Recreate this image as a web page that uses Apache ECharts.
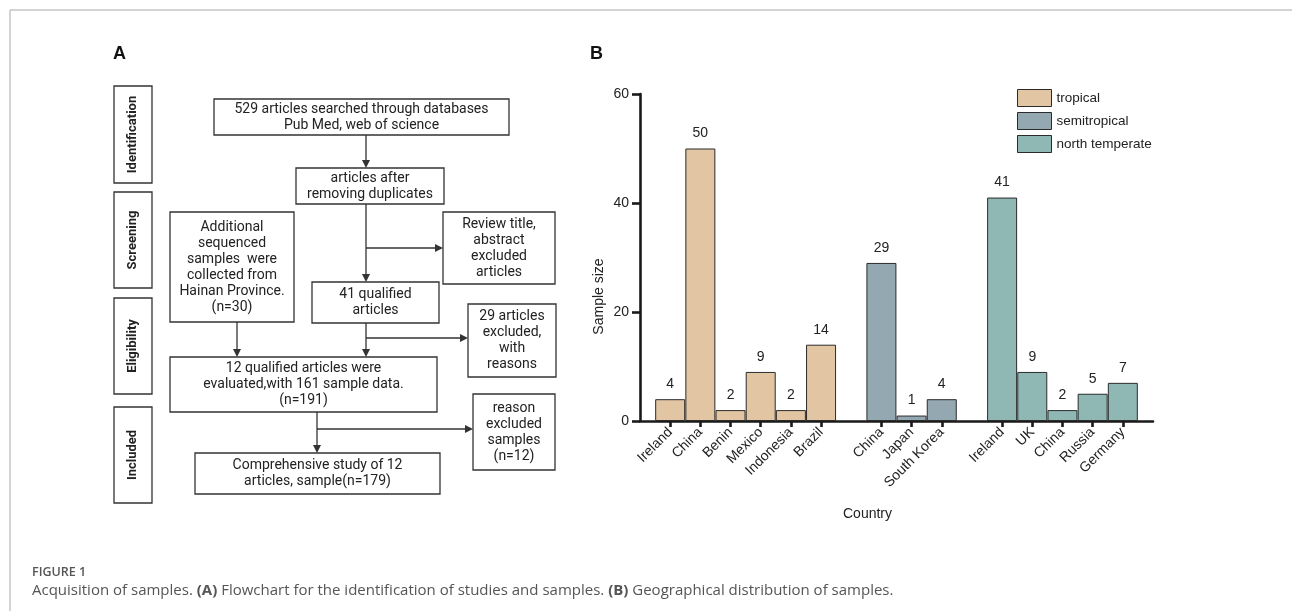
<!DOCTYPE html>
<html><head><meta charset="utf-8">
<script src="https://cdn.jsdelivr.net/npm/echarts@6/dist/echarts.min.js"></script>
<style>html,body{margin:0;padding:0;background:#fff}#c{width:1292px;height:611px}</style>
</head><body><div id="c"></div>
<script>
// ---------- data (panel B) ----------
const tropicalCountries = ['Ireland', 'China', 'Benin', 'Mexico', 'Indonesia', 'Brazil'];
const tropicalValues = [4, 50, 2, 9, 2, 14];
const semitropicalCountries = ['China', 'Japan', 'South Korea'];
const semitropicalValues = [29, 1, 4];
const temperateCountries = ['Ireland', 'UK', 'China', 'Russia', 'Germany'];
const temperateValues = [41, 9, 2, 5, 7];
const seriesNames = ['tropical', 'semitropical', 'north temperate'];
const yTickValues = [0, 20, 40, 60];

// ---------- texts (panel A) ----------
const stageLabels = ['Identification', 'Screening', 'Eligibility', 'Included'];
const flowTexts = [
  '529 articles searched through databases\nPub Med, web of science',
  'articles after\nremoving duplicates',
  'Review title,\nabstract\nexcluded\narticles',
  '41 qualified\narticles',
  'Additional\nsequenced\nsamples  were\ncollected from\nHainan Province.\n(n=30)',
  '29 articles\nexcluded,\nwith\nreasons',
  '12 qualified articles were\nevaluated,with 161 sample data.\n(n=191)',
  'reason\nexcluded\nsamples\n(n=12)',
  'Comprehensive study of 12\narticles, sample(n=179)'
];

// ---------- build category axis with gaps ----------
const groups = [
  { names: tropicalCountries, values: tropicalValues },
  { names: semitropicalCountries, values: semitropicalValues },
  { names: temperateCountries, values: temperateValues }
];
const categories = [''];
groups.forEach((grp, gi) => {
  if (gi > 0) categories.push('');
  grp.names.forEach((n) => categories.push(n));
});
categories.push('');
const seriesData = groups.map(() => new Array(categories.length).fill(null));
let idx = 1;
groups.forEach((grp, gi) => {
  if (gi > 0) idx++;
  grp.values.forEach((v) => {
    seriesData[gi][idx] = v;
    idx++;
  });
});

const colors = ['#E2C6A3', '#93A8B1', '#8FB8B5'];
const barFont = 'Liberation Sans, Arial, sans-serif';
const flowFont = 'Roboto, sans-serif';

// ---------- flowchart layout ----------
const stageBoxes = [[114, 86, 38, 97], [114, 192, 38, 96], [114, 298, 38, 96], [114, 407, 38, 96]];
const flowBoxes = [
  [214, 99, 295, 36], [296, 168, 148, 36], [443, 212, 112, 72], [312, 282, 127, 41],
  [170, 212, 124, 110], [468, 304, 88, 73], [170, 357, 267, 55], [473, 394, 82, 76],
  [195, 453, 245, 41]
];
const stroke = '#333';
const g = [];
// border of figure
g.push({ type: 'line', shape: { x1: 10, y1: 10, x2: 1292, y2: 10 }, style: { stroke: '#c4c4c4', lineWidth: 1.5 } });
g.push({ type: 'line', shape: { x1: 10, y1: 10, x2: 10, y2: 611 }, style: { stroke: '#c4c4c4', lineWidth: 1.5 } });
// panel letters
g.push({ type: 'text', x: 113, y: 45, style: { text: 'A', font: 'bold 18px ' + barFont, fill: '#111' } });
g.push({ type: 'text', x: 590, y: 45, style: { text: 'B', font: 'bold 18px ' + barFont, fill: '#111' } });
// stage boxes
stageBoxes.forEach((b, i) => {
  g.push({ type: 'rect', shape: { x: b[0], y: b[1], width: b[2], height: b[3] }, style: { fill: '#fff', stroke: stroke, lineWidth: 1.3 } });
  g.push({ type: 'text', x: b[0] + b[2] / 2, y: b[1] + b[3] / 2, rotation: Math.PI / 2,
    style: { text: stageLabels[i], font: 'bold 13px ' + flowFont, fill: '#222', align: 'center', verticalAlign: 'middle', textAlign: 'center', textVerticalAlign: 'middle' } });
});
// flow boxes
flowBoxes.forEach((b, i) => {
  g.push({ type: 'rect', shape: { x: b[0], y: b[1], width: b[2], height: b[3] }, style: { fill: '#fff', stroke: stroke, lineWidth: 1.3 } });
  g.push({ type: 'text', x: b[0] + b[2] / 2, y: b[1] + b[3] / 2,
    style: { text: flowTexts[i], font: '14px ' + flowFont, lineHeight: 16, fill: '#222', align: 'center', verticalAlign: 'middle', textAlign: 'center', textVerticalAlign: 'middle' } });
});
function seg(x1, y1, x2, y2) {
  g.push({ type: 'line', shape: { x1, y1, x2, y2 }, style: { stroke: stroke, lineWidth: 1.3 } });
}
function arrow(x1, y1, x2, y2) {
  const L = 8, W = 4;
  const dx = Math.sign(x2 - x1), dy = Math.sign(y2 - y1);
  const bx = x2 - dx * L, by = y2 - dy * L;
  seg(x1, y1, bx, by);
  const pts = dx !== 0
    ? [[x2, y2], [bx, y2 - W], [bx, y2 + W]]
    : [[x2, y2], [x2 - W, by], [x2 + W, by]];
  g.push({ type: 'polygon', shape: { points: pts }, style: { fill: stroke } });
}
arrow(366, 135, 366, 168);
arrow(366, 204, 366, 282);
arrow(366, 248, 443, 248);
arrow(366, 323, 366, 357);
arrow(366, 338, 468, 338);
arrow(237, 322, 237, 357);
arrow(317, 412, 317, 453);
arrow(317, 429, 473, 429);
// caption
g.push({ type: 'text', x: 32, y: 566, style: { text: 'FIGURE 1', font: '600 12.5px "Open Sans", sans-serif', fill: '#555' } });
g.push({ type: 'text', x: 32, y: 583, style: {
  text: '{n|Acquisition of samples. }{b|(A)}{n| Flowchart for the identification of studies and samples. }{b|(B)}{n| Geographical distribution of samples.}',
  rich: {
    n: { fontFamily: '"Open Sans", sans-serif', fontSize: 15, fill: '#555', color: '#555' },
    b: { fontFamily: '"Open Sans", sans-serif', fontSize: 15, fontWeight: 'bold', fill: '#555', color: '#555' }
  }
} });

const chart = echarts.init(document.getElementById('c'), null, { renderer: 'canvas' });
chart.setOption({
  animation: false,
  backgroundColor: '#fff',
  grid: { left: 640, top: 94, width: 513, height: 327 },
  legend: {
    data: seriesNames, orient: 'vertical', left: 1012, top: 84,
    itemWidth: 34, itemHeight: 17, itemGap: 5, icon: 'rect',
    itemStyle: { borderColor: '#2b2b2b', borderWidth: 1 },
    textStyle: { fontSize: 13.5, color: '#222', fontFamily: barFont }
  },
  xAxis: {
    type: 'category', data: categories, boundaryGap: false,
    axisLine: { lineStyle: { color: '#1a1a1a', width: 2.6 } },
    axisTick: { length: 6, lineStyle: { color: '#1a1a1a', width: 2.6 }, interval: (i, v) => v !== '' },
    axisLabel: { rotate: 45, interval: 0, fontSize: 14, color: '#222', margin: 9, fontFamily: barFont },
    name: 'Country', nameLocation: 'middle', nameGap: 86,
    nameTextStyle: { fontSize: 14, color: '#222', fontFamily: barFont, padding: [0, 58, 0, 0] }
  },
  yAxis: {
    type: 'value', min: yTickValues[0], max: yTickValues[yTickValues.length - 1], interval: yTickValues[1] - yTickValues[0],
    axisLine: { show: true, lineStyle: { color: '#1a1a1a', width: 2.6 } },
    axisTick: { show: true, length: 8, lineStyle: { color: '#1a1a1a', width: 2.6 } },
    splitLine: { show: false },
    axisLabel: { fontSize: 14, color: '#222', margin: 11, fontFamily: barFont },
    name: 'Sample size', nameLocation: 'middle', nameGap: 34,
    nameTextStyle: { fontSize: 14, color: '#222', fontFamily: barFont, padding: [0, 78, 0, 0] }
  },
  series: seriesNames.map((n, i) => ({
    name: n, type: 'bar', data: seriesData[i], barWidth: 30, barGap: '-100%',
    itemStyle: { color: colors[i], borderColor: '#2b2b2b', borderWidth: 1 },
    label: { show: true, position: 'top', distance: 8, fontSize: 14, color: '#222', fontFamily: barFont }
  })),
  graphic: { elements: g }
});
</script></body></html>
